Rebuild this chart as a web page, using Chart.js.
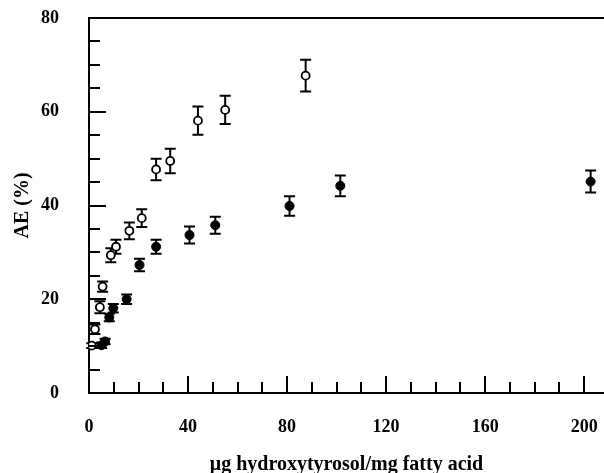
<!DOCTYPE html>
<html>
<head>
<meta charset="utf-8">
<script src="https://cdn.jsdelivr.net/npm/chart.js@4"></script>
<style>
  html, body { margin: 0; padding: 0; background: #fff; }
  #wrap { width: 604px; height: 473px; }
</style>
</head>
<body>
<div id="wrap"><canvas id="chart" width="604" height="473"></canvas></div>
<script>
// Data
const openX   = [1.1, 2.4, 4.4, 5.5, 8.8, 10.9, 16.3, 21.3, 27.1, 32.8, 44.0, 55.0, 87.5];
const openY   = [10.1, 13.6, 18.3, 22.7, 29.4, 31.2, 34.6, 37.3, 47.7, 49.5, 58.1, 60.4, 67.7];
const openErr = [0.5, 1.0, 1.3, 1.1, 1.5, 1.5, 1.8, 1.9, 2.3, 2.6, 3.0, 3.0, 3.4];

const filledX   = [5.1, 6.5, 8.2, 9.8, 15.2, 20.4, 27.1, 40.6, 51.0, 81.0, 101.5, 202.6];
const filledY   = [10.2, 11.0, 16.1, 18.1, 20.0, 27.3, 31.2, 33.7, 35.8, 39.9, 44.2, 45.1];
const filledErr = [0.6, 0.6, 0.8, 0.9, 1.0, 1.35, 1.5, 1.8, 1.8, 2.1, 2.2, 2.35];

const xTickValues = [0, 40, 80, 120, 160, 200];
const yTickValues = [0, 20, 40, 60, 80];

const xTitle = 'μg hydroxytyrosol/mg fatty acid';
const yTitle = 'AE (%)';

const FONT = "'Liberation Serif', 'DejaVu Serif', serif";

function toPoints(xs, ys, errs) {
    return xs.map((x, i) => ({ x: x, y: ys[i], err: errs[i] }));
}

// error bars + inward tick marks + top frame line
const errorBars = {
    id: 'errorBars',
    beforeDatasetsDraw(chart) {
        const ctx = chart.ctx;
        const xs = chart.scales.x, ys = chart.scales.y;
        ctx.save();
        ctx.strokeStyle = '#000';
        ctx.lineWidth = 2;
        chart.data.datasets.forEach(ds => {
            ds.data.forEach(p => {
                const px = xs.getPixelForValue(p.x);
                const top = ys.getPixelForValue(p.y + p.err);
                const bot = ys.getPixelForValue(p.y - p.err);
                ctx.beginPath();
                ctx.moveTo(px, top); ctx.lineTo(px, bot);
                ctx.moveTo(px - 5.5, top); ctx.lineTo(px + 5.5, top);
                ctx.moveTo(px - 5.5, bot); ctx.lineTo(px + 5.5, bot);
                ctx.stroke();
            });
        });
        ctx.restore();
    },
    afterDraw(chart) {
        const ctx = chart.ctx;
        const area = chart.chartArea;
        const xs = chart.scales.x, ys = chart.scales.y;
        ctx.save();
        ctx.strokeStyle = '#000';
        ctx.lineWidth = 2;
        ctx.beginPath();
        for (let v = 5; v < 80; v += 5) {
            const py = Math.round(ys.getPixelForValue(v));
            const len = v % 20 === 0 ? 17 : 11;
            ctx.moveTo(area.left, py); ctx.lineTo(area.left + len, py);
        }
        for (let v = 10; v <= 200; v += 10) {
            const px = Math.round(xs.getPixelForValue(v));
            const len = v % 40 === 0 ? 17 : 11;
            ctx.moveTo(px, area.bottom); ctx.lineTo(px, area.bottom - len);
        }
        ctx.moveTo(area.left - 1, area.top);
        ctx.lineTo(chart.width, area.top);
        ctx.stroke();
        ctx.restore();
    }
};

new Chart(document.getElementById('chart'), {
    type: 'scatter',
    data: {
        datasets: [
            {
                label: 'open',
                data: toPoints(openX, openY, openErr),
                pointStyle: 'circle',
                pointRadius: 4,
                pointBackgroundColor: '#fff',
                pointBorderColor: '#000',
                pointBorderWidth: 1.8
            },
            {
                label: 'filled',
                data: toPoints(filledX, filledY, filledErr),
                pointStyle: 'circle',
                pointRadius: 4.5,
                pointBackgroundColor: '#000',
                pointBorderColor: '#000',
                pointBorderWidth: 1
            }
        ]
    },
    options: {
        responsive: false,
        animation: false,
        layout: { padding: { top: 18, right: 0, bottom: 0, left: 0 }, autoPadding: false },
        plugins: {
            legend: { display: false },
            tooltip: { enabled: false }
        },
        scales: {
            x: {
                type: 'linear',
                min: 0,
                max: 208,
                afterBuildTicks(scale) { scale.ticks = xTickValues.map(v => ({ value: v })); },
                afterFit(scale) {
                    scale.height = 80;
                    scale.paddingLeft = 0;
                    scale.paddingRight = 0;
                },
                grid: { display: false },
                border: { display: true, color: '#000', width: 2 },
                ticks: {
                    autoSkip: false,
                    padding: 16,
                    color: '#000',
                    maxRotation: 0,
                    font: { family: FONT, size: 18, weight: 'bold' }
                },
                title: {
                    display: true,
                    text: xTitle,
                    color: '#000',
                    padding: { top: 0, bottom: 0 },
                    font: { family: FONT, size: 20, weight: 'bold', lineHeight: 0.8 }
                }
            },
            y: {
                type: 'linear',
                min: 0,
                max: 80,
                afterBuildTicks(scale) { scale.ticks = yTickValues.map(v => ({ value: v })); },
                afterFit(scale) {
                    scale.width = 89;
                    scale.paddingTop = 0;
                    scale.paddingBottom = 0;
                },
                grid: { display: false },
                border: { display: true, color: '#000', width: 2 },
                ticks: {
                    autoSkip: false,
                    padding: 22,
                    color: '#000',
                    font: { family: FONT, size: 18, weight: 'bold' }
                },
                title: {
                    display: true,
                    text: yTitle,
                    color: '#000',
                    padding: { top: 11, bottom: 0 },
                    font: { family: FONT, size: 20, weight: 'bold' }
                }
            }
        }
    },
    plugins: [errorBars]
});
</script>
</body>
</html>
